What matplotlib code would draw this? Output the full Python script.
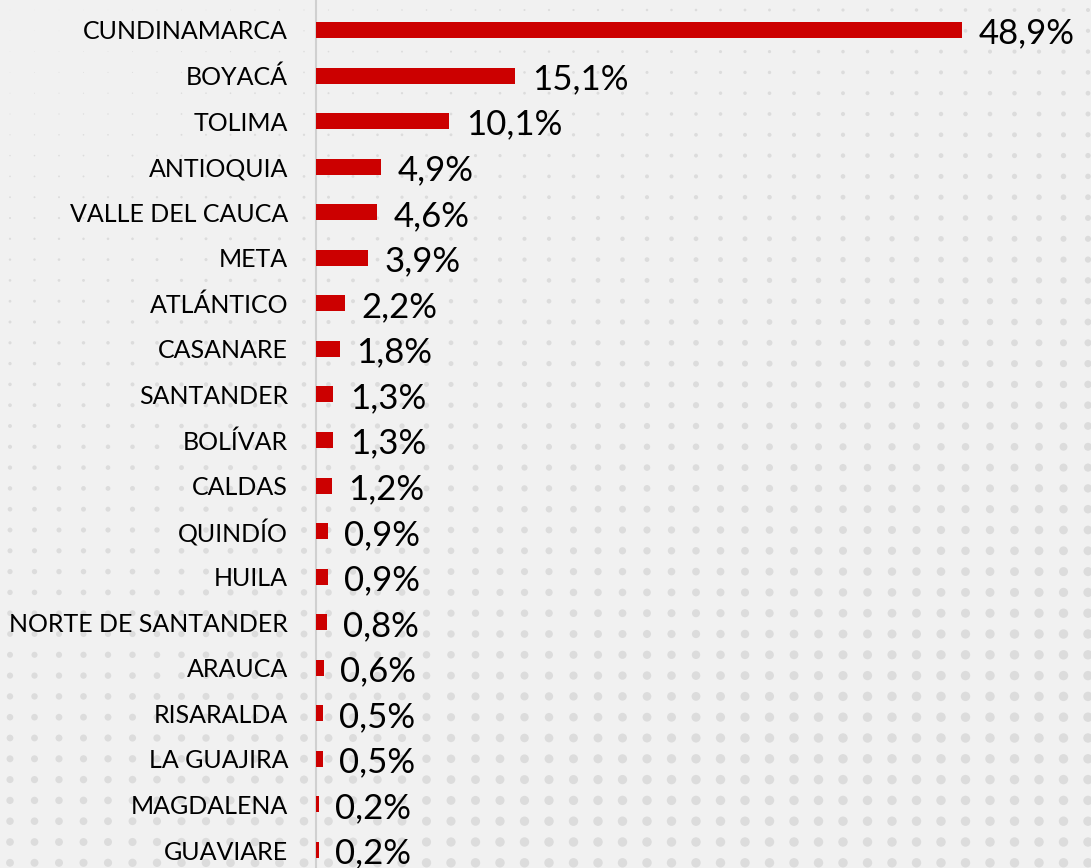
import numpy as np
from matplotlib import pyplot as plt

# data
departamentos = ["CUNDINAMARCA", "BOYACÁ", "TOLIMA", "ANTIOQUIA", "VALLE DEL CAUCA",
                 "META", "ATLÁNTICO", "CASANARE", "SANTANDER", "BOLÍVAR", "CALDAS",
                 "QUINDÍO", "HUILA", "NORTE DE SANTANDER", "ARAUCA", "RISARALDA",
                 "LA GUAJIRA", "MAGDALENA", "GUAVIARE"]
porcentajes = [48.9, 15.1, 10.1, 4.9, 4.6, 3.9, 2.2, 1.8, 1.3, 1.3, 1.2,
               0.9, 0.9, 0.8, 0.6, 0.5, 0.5, 0.2, 0.2]

plt.rcParams['font.family'] = ['Lato', 'DejaVu Sans']

fig = plt.figure(figsize=(10.91, 8.68), dpi=100)
fig.patch.set_facecolor('#f1f1f1')

# decorative dotted background
bg = fig.add_axes([0, 0, 1, 1])
bg.set_xlim(0, 1091)
bg.set_ylim(868, 0)
bg.axis('off')
gx, gy = np.meshgrid(np.arange(10, 1091, 24.5), np.arange(10, 868, 20.8))
fade = np.clip((gx / 1091) * 0.5 + (gy / 868) * 1.0, 0.05, 1.2)
bg.scatter(gx.ravel(), gy.ravel(), s=(fade * 8).ravel() ** 2 / 2, c='#dadada',
           alpha=0.9, linewidths=0, zorder=0)

ax = fig.add_axes([316 / 1091, 0, 1 - 316 / 1091, 1])
ax.patch.set_alpha(0)
y = np.arange(len(departamentos))
ax.barh(y, porcentajes, height=0.35, color='#cc0000', zorder=3)
ax.set_xlim(0, 775 / 13.21)
ax.set_ylim(18 + 18 / 45.6, -30 / 45.6)

for yi, v in zip(y, porcentajes):
    ax.text(v + 1.25, yi + 0.08, f"{v:.1f}%".replace('.', ','), va='center', ha='left',
            fontsize=25, color='black')

ax.set_yticks(y)
ax.set_yticklabels(departamentos, fontsize=18, color='black')
ax.tick_params(axis='y', length=0, pad=20)
ax.set_xticks([])
for s in ['top', 'right', 'bottom']:
    ax.spines[s].set_visible(False)
ax.spines['left'].set_color('#d0d0d0')
ax.spines['left'].set_linewidth(1.5)

fig.savefig('out.png', dpi=100, facecolor=fig.get_facecolor())
